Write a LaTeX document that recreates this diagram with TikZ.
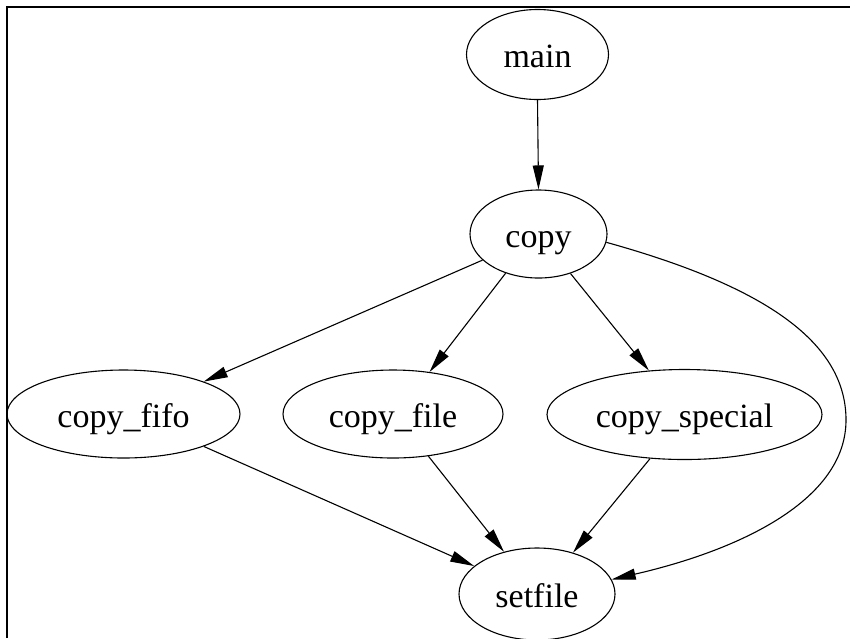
\documentclass[tikz,border=0pt]{standalone}
\usepackage{fontspec}
\setmainfont{Liberation Serif}
\usetikzlibrary{shapes.geometric,arrows.meta}
\begin{document}
\begin{tikzpicture}[x=1pt,y=-1pt,
  gnode/.style={ellipse,draw=black,line width=1.1pt,inner sep=0pt,
    text height=26pt,text depth=0pt,
    font=\fontsize{34}{40}\selectfont},
  gedge/.style={draw=black,line width=1.1pt,
    -{Triangle[length=24pt,width=11pt]}}]
\useasboundingbox (0,0) rectangle (850,638);
\fill[white] (0,0) rectangle (850,638);
\draw[line width=1.6pt] (7,638) -- (7,7) -- (850,7);

\node[gnode,minimum width=142pt,minimum height=90pt] (main) at (537.5,54.5) {main};
\node[gnode,minimum width=137pt,minimum height=88pt] (copy) at (538.5,234) {copy};
\node[gnode,minimum width=233pt,minimum height=88pt] (fifo) at (123.5,414) {copy\_fifo};
\node[gnode,minimum width=220pt,minimum height=88pt] (file) at (393,414) {copy\_file};
\node[gnode,minimum width=275pt,minimum height=90pt] (special) at (684.5,414.5) {copy\_special};
\node[gnode,minimum width=156pt,minimum height=92pt] (setfile) at (537,594) {setfile};
\coordinate (bend) at (846,420);

\draw[gedge] (main.south) -- (copy.north);
\draw[gedge] (copy.205) -- (fifo.22.5);
\draw[gedge] (copy.230) -- (file.49);
\draw[gedge] (copy.309) -- (special.129);
\draw[gedge] (copy.353) .. controls (760,285) and (846,340) .. (bend)
  .. controls (846,500) and (740,550) .. (setfile.11);
\draw[gedge] (fifo.338) -- (setfile.156);
\draw[gedge] (file.310) -- (setfile.128);
\draw[gedge] (special.232) -- (setfile.49);
\end{tikzpicture}
\end{document}
